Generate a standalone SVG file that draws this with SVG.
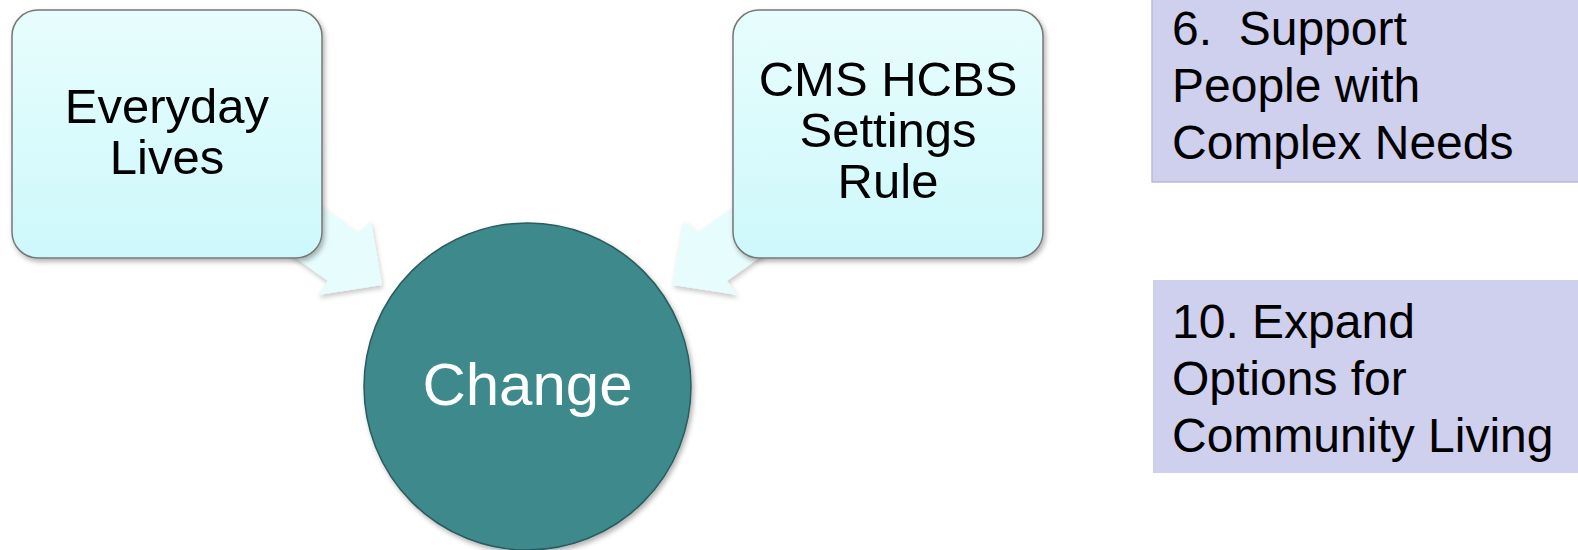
<svg xmlns="http://www.w3.org/2000/svg" width="1578" height="550" viewBox="0 0 1578 550">
  <defs>
    <linearGradient id="boxGrad" x1="0" y1="0" x2="0" y2="1">
      <stop offset="0" stop-color="#e8fdfd"/>
      <stop offset="1" stop-color="#cdf8fb"/>
    </linearGradient>
    <filter id="shadow" x="-20%" y="-20%" width="140%" height="140%">
      <feDropShadow dx="2" dy="3" stdDeviation="2.5" flood-color="#000" flood-opacity="0.3"/>
    </filter>
    <filter id="arrowShadow" x="-20%" y="-20%" width="140%" height="140%">
      <feDropShadow dx="1" dy="3" stdDeviation="2.5" flood-color="#000" flood-opacity="0.22"/>
    </filter>
  </defs>
  <style>
    .box { fill: url(#boxGrad); stroke: #777777; stroke-width: 1.5; filter: url(#shadow); }
    .arrow { fill: #e7fcfd; filter: url(#arrowShadow); }
    .lbl { font-family: "Liberation Sans", Arial, sans-serif; font-size: 49px; fill: #000000; text-anchor: middle; }
    .goal { fill: #cfcfee; }
    .goalTxt { font-family: "Liberation Sans", Arial, sans-serif; font-size: 48px; fill: #000000; white-space: pre; }
    .hub { fill: #3d898c; stroke: #2a5c5e; stroke-width: 1.5; filter: url(#shadow); }
    .hubTxt { font-family: "Liberation Sans", Arial, sans-serif; font-size: 60px; fill: #ffffff; text-anchor: middle; }
  </style>

  <g id="connectors">
    <polygon class="arrow" points="277,175 358,233 371,221 382,285 318,295 328,281 247,223"/>
    <polygon class="arrow" points="778,175 697,233 684,221 673,285 737,295 727,281 808,223"/>
  </g>

  <g id="node-everyday-lives">
    <rect class="box" x="12" y="10" width="310" height="248" rx="26" ry="26"/>
    <text class="lbl" x="167" y="123">Everyday</text>
    <text class="lbl" x="167" y="174">Lives</text>
  </g>

  <g id="node-cms-hcbs">
    <rect class="box" x="733" y="10" width="310" height="248" rx="26" ry="26"/>
    <text class="lbl" x="888" y="96">CMS HCBS</text>
    <text class="lbl" x="888" y="147">Settings</text>
    <text class="lbl" x="888" y="198">Rule</text>
  </g>

  <g id="node-change">
    <circle class="hub" cx="527.5" cy="386.5" r="163.5"/>
    <text class="hubTxt" x="527.5" y="405">Change</text>
  </g>

  <g id="node-goal-6">
    <rect class="goal" x="1152" y="-15" width="440" height="197" stroke="#babada" stroke-width="1.5"/>
    <text class="goalTxt" x="1172" y="45" xml:space="preserve">6.  Support</text>
    <text class="goalTxt" x="1172" y="102">People with</text>
    <text class="goalTxt" x="1172" y="159">Complex Needs</text>
  </g>

  <g id="node-goal-10">
    <rect class="goal" x="1153" y="280" width="440" height="193"/>
    <text class="goalTxt" x="1172" y="338">10. Expand</text>
    <text class="goalTxt" x="1172" y="395">Options for</text>
    <text class="goalTxt" x="1172" y="452">Community Living</text>
  </g>
</svg>
